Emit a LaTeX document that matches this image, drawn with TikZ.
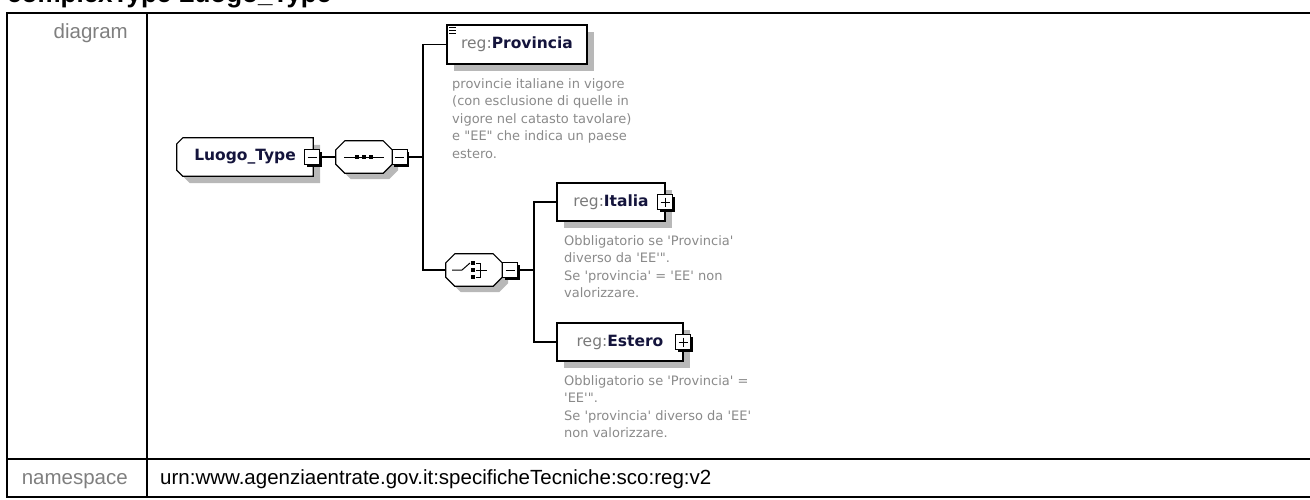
\documentclass[tikz,border=0pt]{standalone}
\usepackage{fontspec}
\usepackage{tikz}
\usetikzlibrary{positioning,shadows,backgrounds}
\newfontfamily\tabfont{Liberation Sans}
\newfontfamily\dgmfont{DejaVu Sans}
\definecolor{shadowgray}{HTML}{B8B8B8}
\definecolor{labelgray}{HTML}{7F7F7F}
\definecolor{notegray}{HTML}{8A8A8A}
\definecolor{prefixgray}{HTML}{7A7A7A}
\definecolor{namenavy}{HTML}{14143C}
\newcommand{\qname}[1]{{\color{prefixgray}reg:}{\bfseries\color{namenavy}#1}}

\begin{document}
\begin{tikzpicture}[x=1pt,y=-1pt,
  tabline/.style={line width=2pt},
  tablabel/.style={font=\tabfont\fontsize{20.5}{24}\selectfont,text=labelgray,inner sep=0pt},
  boxshadow/.style={drop shadow={shadow xshift=#1,shadow yshift=-#1,fill=shadowgray,opacity=1}},
  outline/.style={draw,fill=white,line width=1.2pt},
  elem/.style={outline,minimum height=38pt,inner sep=0pt,font=\dgmfont\fontsize{15.5}{18}\selectfont},
  ctype/.style={minimum height=38pt,inner sep=0pt,font=\dgmfont\fontsize{15.5}{18}\selectfont},
  compositor/.style={minimum height=32pt,minimum width=56pt,inner sep=0pt},
  toggle/.style={draw,fill=white,line width=0.9pt,minimum size=15pt,inner sep=0pt,
    drop shadow={shadow xshift=2pt,shadow yshift=-2pt,fill=black,opacity=1}},
  minusbox/.style={toggle,path picture={
    \draw[line width=1pt] ([xshift=3pt]path picture bounding box.west) -- ([xshift=-3pt]path picture bounding box.east);}},
  plusbox/.style={toggle,path picture={
    \draw[line width=1pt] ([xshift=3pt]path picture bounding box.west) -- ([xshift=-3pt]path picture bounding box.east)
      ([yshift=-3pt]path picture bounding box.north) -- ([yshift=3pt]path picture bounding box.south);}},
  note/.style={font=\dgmfont\fontsize{13}{17.5}\selectfont,text=notegray,align=left,
    anchor=north west,inner sep=0pt},
  link/.style={line width=1.2pt}]
  \useasboundingbox (0,0) rectangle (1310,499);
  % heading, cut by the page edge
  \node[font=\tabfont\bfseries\fontsize{26}{30}\selectfont,anchor=base west,inner sep=0pt] (title) at (7,2) {complexType Luogo\_Type};
  % table
  \draw[tabline] (1312,13) -- (7,13) -- (7,497) -- (1312,497);
  \draw[tabline] (147,13) -- (147,497);
  \draw[tabline] (7,459) -- (1312,459);
  \node[tablabel,anchor=base east] (lbldiagram) at (128,38) {diagram};
  \node[tablabel,anchor=base east] (lblns) at (128,484) {namespace};
  \node[tablabel,anchor=base west,text=black] (ns) at (160,484) {urn:www.agenziaentrate.gov.it:specificheTecniche:sco:reg:v2};
  % complex type
  \node[ctype,minimum width=136pt] (luogo) at (245,157) {\textbf{\color{namenavy}Luogo\_Type}\hspace{10pt}};
  \node[minusbox] (luogot) at (312,157) {};
  % sequence
  \node[compositor] (seq) at (364,157) {};
  \node[minusbox] (seqt) at (399.5,157) {};
  \coordinate (seqj) at (423,157);
  % provincia
  \node[elem,boxshadow=7pt,minimum width=140pt,minimum height=39pt] (prov) at (517,44.5) {\qname{Provincia}};
  \foreach \dy in {3,6,9}
    \draw[line width=0.9pt] ([shift={(3,\dy)}]prov.north west) -- ([shift={(10,\dy)}]prov.north west);
  \node[note] (provnote) at (452,78) {provincie italiane in vigore\\(con esclusione di quelle in\\vigore nel catasto tavolare)\\e "EE" che indica un paese\\estero.};
  % choice
  \node[compositor] (cho) at (474,270) {};
  \node[minusbox] (chot) at (510,270) {};
  \coordinate (choj) at (534,270);
  % italia / estero
  \node[elem,boxshadow=7pt,minimum width=108pt] (ita) at (611,202) {\qname{Italia}\hspace{8pt}};
  \node[plusbox] (itat) at (665,202) {};
  \node[note] (itanote) at (564,235) {Obbligatorio se 'Provincia'\\diverso da 'EE'".\\Se 'provincia' = 'EE' non\\valorizzare.};
  \node[elem,boxshadow=7pt,minimum width=126pt] (est) at (620,342) {\qname{Estero}\hspace{8pt}};
  \node[plusbox] (estt) at (683,342) {};
  \node[note] (estnote) at (564,375) {Obbligatorio se 'Provincia' =\\'EE'".\\Se 'provincia' diverso da 'EE'\\non valorizzare.};
  % outlines of the type and the compositors
  \begin{scope}[on background layer]
    \draw[outline,boxshadow=7pt] ([xshift=6pt]luogo.north west) -- (luogo.north east) -- (luogo.south east)
      -- ([xshift=6pt]luogo.south west) -- ([yshift=6pt]luogo.south west) -- ([yshift=-6pt]luogo.north west) -- cycle;
    \foreach \c in {seq,cho}
      \draw[outline,boxshadow=6pt] ([xshift=9pt]\c.north west) -- ([xshift=-9pt]\c.north east)
        -- ([yshift=-9pt]\c.north east) -- ([yshift=9pt]\c.south east) -- ([xshift=-9pt]\c.south east)
        -- ([xshift=9pt]\c.south west) -- ([yshift=9pt]\c.south west) -- ([yshift=-9pt]\c.north west) -- cycle;
  \end{scope}
  % sequence symbol
  \draw[line width=1pt] ([xshift=-20pt]seq.center) -- ([xshift=20pt]seq.center);
  \foreach \dx in {-7,0,7}
    \fill ([xshift=\dx pt]seq.center) +(-2,-2) rectangle +(2,2);
  % choice symbol
  \draw[line width=1pt] ([xshift=-22pt]cho.center) -- ([xshift=-12pt]cho.center) -- ([shift={(-4,-7)}]cho.center);
  \foreach \dy in {-7,0,7}
    \fill ([shift={(-1,\dy)}]cho.center) +(-2,-2) rectangle +(2,2);
  \draw[line width=1pt] ([shift={(2,-7)}]cho.center) -- ([shift={(6,-7)}]cho.center) -- ([shift={(6,7)}]cho.center) -- ([shift={(2,7)}]cho.center);
  \draw[line width=1pt] ([shift={(2,0)}]cho.center) -- ([shift={(13,0)}]cho.center);
  % links
  \draw[link] (luogot.east) -- (seq.west);
  \draw[link] (seqt.east) -- (seqj);
  \draw[link] (prov.west) -| (seqj) |- (cho.west);
  \draw[link] (chot.east) -- (choj);
  \draw[link] (ita.west) -| (choj) |- (est.west);
\end{tikzpicture}
\end{document}
